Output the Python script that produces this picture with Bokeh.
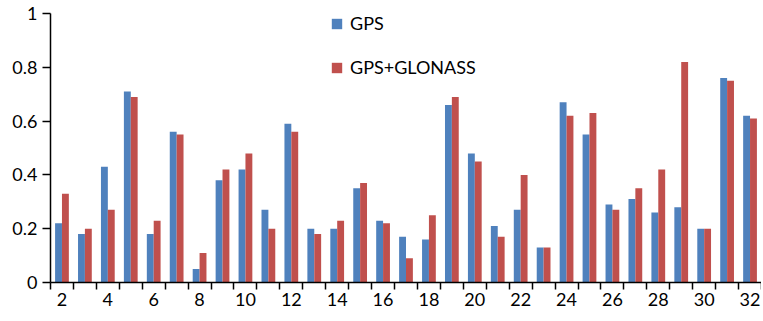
from bokeh.plotting import figure
from bokeh.models import ColumnDataSource, FixedTicker, Range1d, Legend, LegendItem
from bokeh.transform import dodge
from bokeh.embed import file_html
from bokeh.resources import INLINE

satellites = list(range(2, 33))
gps = [0.22, 0.18, 0.43, 0.71, 0.18, 0.56, 0.05, 0.38, 0.42, 0.27,
       0.59, 0.20, 0.20, 0.35, 0.23, 0.17, 0.16, 0.66, 0.48, 0.21,
       0.27, 0.13, 0.67, 0.55, 0.29, 0.31, 0.26, 0.28, 0.20, 0.76, 0.62]
gps_glonass = [0.33, 0.20, 0.27, 0.69, 0.23, 0.55, 0.11, 0.42, 0.48, 0.20,
               0.56, 0.18, 0.23, 0.37, 0.22, 0.09, 0.25, 0.69, 0.45, 0.17,
               0.40, 0.13, 0.62, 0.63, 0.27, 0.35, 0.42, 0.82, 0.20, 0.75, 0.61]
x_tick_labels = list(range(2, 33, 2))
y_ticks = [0, 0.2, 0.4, 0.6, 0.8, 1]
y_tick_labels = ["0", "0.2", "0.4", "0.6", "0.8", "1"]

FONT = "Lato"
TXT = "#000000"
FS = "18px"

src = ColumnDataSource(dict(x=satellites, gps=gps, glo=gps_glonass))

p = figure(width=761, height=318, output_backend="svg", toolbar_location=None,
           x_range=Range1d(min(satellites) - 0.5, max(satellites) + 0.5),
           y_range=Range1d(0, 1),
           min_border_left=50, min_border_top=13, min_border_right=0, min_border_bottom=36)
p.outline_line_color = None
p.xgrid.grid_line_color = None
p.ygrid.grid_line_color = None

r1 = p.vbar(x=dodge("x", -0.15, range=p.x_range), top="gps", width=0.3, bottom=0,
            source=src, fill_color="#4F81BD", line_color=None)
r2 = p.vbar(x=dodge("x", 0.15, range=p.x_range), top="glo", width=0.3, bottom=0,
            source=src, fill_color="#C0504D", line_color=None)

xa = p.xaxis[0]
xa.ticker = FixedTicker(ticks=x_tick_labels,
                        minor_ticks=[s - 0.5 for s in satellites] + [max(satellites) + 0.5])
xa.major_tick_line_color = None
xa.minor_tick_line_color = "black"
xa.minor_tick_line_width = 1.5
xa.minor_tick_out = 7
xa.minor_tick_in = 0
xa.axis_line_color = "black"
xa.axis_line_width = 1.5
xa.major_label_text_font = FONT
xa.major_label_text_font_size = FS
xa.major_label_text_color = TXT
xa.major_label_standoff = 3

ya = p.yaxis[0]
ya.ticker = FixedTicker(ticks=y_ticks)
ya.major_label_overrides = {t: l for t, l in zip(y_ticks, y_tick_labels)}
ya.minor_tick_line_color = None
ya.major_tick_out = 8
ya.major_tick_in = 0
ya.major_tick_line_width = 1.5
ya.axis_line_color = "black"
ya.axis_line_width = 1.5
ya.major_label_text_font = FONT
ya.major_label_text_font_size = FS
ya.major_label_text_color = TXT
ya.major_label_standoff = 5

legend = Legend(items=[LegendItem(label="GPS", renderers=[r1]),
                       LegendItem(label="GPS+GLONASS", renderers=[r2])],
                location=(280, 204), orientation="vertical",
                glyph_width=13, glyph_height=13, spacing=22, padding=0, margin=0,
                label_standoff=7, label_text_font=FONT, label_text_font_size=FS,
                label_text_color=TXT, border_line_color=None, background_fill_alpha=0)
p.add_layout(legend)

open("out.html", "w").write(file_html(p, INLINE))
